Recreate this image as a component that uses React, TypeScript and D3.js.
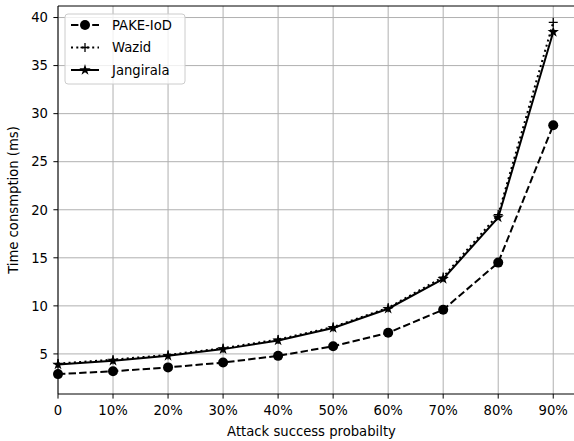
import React, { useEffect, useRef } from 'react';
import * as d3 from 'd3';

const probs = [0, 0.1, 0.2, 0.3, 0.4, 0.5, 0.6, 0.7, 0.8, 0.9];
const xTickLabels = ['0', '10%', '20%', '30%', '40%', '50%', '60%', '70%', '80%', '90%'];
const pakeIoD = [2.9, 3.2, 3.6, 4.1, 4.8, 5.8, 7.2, 9.6, 14.5, 28.8];
const wazid = [4.0, 4.4, 4.9, 5.6, 6.5, 7.8, 9.8, 13.0, 19.5, 39.5];
const jangirala = [3.9, 4.3, 4.8, 5.5, 6.4, 7.7, 9.7, 12.8, 19.2, 38.5];
const yTicks = [5, 10, 15, 20, 25, 30, 35, 40];

const W = 574;
const H = 441;
const FONT = 'DejaVu Sans, sans-serif';
const FS = 13.2;

function Chart() {
  const ref = useRef<SVGSVGElement>(null);

  useEffect(() => {
    const svg = d3.select(ref.current);
    svg.selectAll('*').remove();

    const margin = { top: 6, left: 58, right: 578, bottom: 394 };
    const x = d3.scaleLinear().domain([0, 0.945]).range([margin.left, margin.right]);
    const y = d3.scaleLinear().domain([0.83, 41.2]).range([margin.bottom, margin.top]);

    svg.append('rect').attr('width', W).attr('height', H).attr('fill', '#fff');

    // grid
    const grid = svg.append('g').attr('stroke', '#b0b0b0').attr('stroke-width', 1);
    probs.forEach(p => {
      grid.append('line').attr('x1', x(p)).attr('x2', x(p)).attr('y1', margin.top).attr('y2', margin.bottom);
    });
    yTicks.forEach(v => {
      grid.append('line').attr('x1', margin.left).attr('x2', margin.right).attr('y1', y(v)).attr('y2', y(v));
    });

    const line = d3.line<number>()
      .x((_, i) => x(probs[i]))
      .y(d => y(d));

    const series = [
      { name: 'PAKE-IoD', data: pakeIoD, dash: '7.4,3.2', marker: 'circle' },
      { name: 'Wazid', data: wazid, dash: '2,3.3', marker: 'plus' },
      { name: 'Jangirala', data: jangirala, dash: null, marker: 'star' },
    ];

    const drawMarker = (g: any, kind: string, cx: number, cy: number) => {
      if (kind === 'circle') {
        g.append('circle').attr('cx', cx).attr('cy', cy).attr('r', 5).attr('fill', '#000');
      } else if (kind === 'plus') {
        g.append('path')
          .attr('d', `M${cx - 4.5},${cy}H${cx + 4.5}M${cx},${cy - 4.5}V${cy + 4.5}`)
          .attr('stroke', '#000').attr('stroke-width', 1.3).attr('fill', 'none');
      } else {
        g.append('path')
          .attr('d', d3.symbol().type(d3.symbolStar).size(40)())
          .attr('transform', `translate(${cx},${cy})`)
          .attr('fill', '#000');
      }
    };

    const plot = svg.append('g');
    series.forEach(s => {
      const p = plot.append('path')
        .datum(s.data)
        .attr('d', line)
        .attr('fill', 'none')
        .attr('stroke', '#000')
        .attr('stroke-width', 2);
      if (s.dash) p.attr('stroke-dasharray', s.dash);
      const mg = plot.append('g');
      s.data.forEach((v, i) => drawMarker(mg, s.marker, x(probs[i]), y(v)));
    });

    // spines
    svg.append('line').attr('x1', margin.left).attr('x2', margin.left).attr('y1', margin.top).attr('y2', margin.bottom)
      .attr('stroke', '#000').attr('stroke-width', 1);
    svg.append('line').attr('x1', margin.left).attr('x2', margin.right).attr('y1', margin.bottom).attr('y2', margin.bottom)
      .attr('stroke', '#000').attr('stroke-width', 1);
    svg.append('line').attr('x1', margin.left).attr('x2', margin.right).attr('y1', margin.top).attr('y2', margin.top)
      .attr('stroke', '#000').attr('stroke-width', 1);

    // x ticks
    probs.forEach((p, i) => {
      svg.append('line').attr('x1', x(p)).attr('x2', x(p)).attr('y1', margin.bottom).attr('y2', margin.bottom + 4.6)
        .attr('stroke', '#000');
      svg.append('text').attr('x', x(p)).attr('y', margin.bottom + 21)
        .attr('text-anchor', 'middle').attr('font-family', FONT).attr('font-size', FS).attr('fill', '#000')
        .text(xTickLabels[i]);
    });
    // y ticks
    yTicks.forEach(v => {
      svg.append('line').attr('x1', margin.left - 4.6).attr('x2', margin.left).attr('y1', y(v)).attr('y2', y(v))
        .attr('stroke', '#000');
      svg.append('text').attr('x', margin.left - 10).attr('y', y(v)).attr('dy', '0.36em')
        .attr('text-anchor', 'end').attr('font-family', FONT).attr('font-size', FS).attr('fill', '#000')
        .text(v);
    });

    svg.append('text').attr('x', (margin.left + 573) / 2 - 4).attr('y', 436)
      .attr('text-anchor', 'middle').attr('font-family', FONT).attr('font-size', FS).attr('fill', '#000')
      .text('Attack success probabilty');
    svg.append('text')
      .attr('transform', `translate(18,${(margin.top + margin.bottom) / 2}) rotate(-90)`)
      .attr('text-anchor', 'middle').attr('font-family', FONT).attr('font-size', FS).attr('fill', '#000')
      .text('Time consmption (ms)');

    // legend
    const lg = svg.append('g').attr('transform', 'translate(65,14)');
    lg.append('rect').attr('width', 120).attr('height', 70).attr('rx', 3)
      .attr('fill', 'rgba(255,255,255,0.8)').attr('stroke', '#ccc').attr('stroke-width', 1);
    series.forEach((s, i) => {
      const cy = 11 + i * 22.5;
      const l = lg.append('line').attr('x1', 6).attr('x2', 34).attr('y1', cy).attr('y2', cy)
        .attr('stroke', '#000').attr('stroke-width', 2);
      if (s.dash) l.attr('stroke-dasharray', s.dash);
      drawMarker(lg, s.marker, 20, cy);
      lg.append('text').attr('x', 47).attr('y', cy).attr('dy', '0.36em')
        .attr('font-family', FONT).attr('font-size', FS).attr('fill', '#000').text(s.name);
    });
  }, []);

  return <svg ref={ref} width={W} height={H} style={{ display: 'block' }}></svg>;
}

export default function App() {
  return (
    <div style={{ position: 'absolute', left: 0, top: 0 }}>
      <Chart />
    </div>
  );
}
